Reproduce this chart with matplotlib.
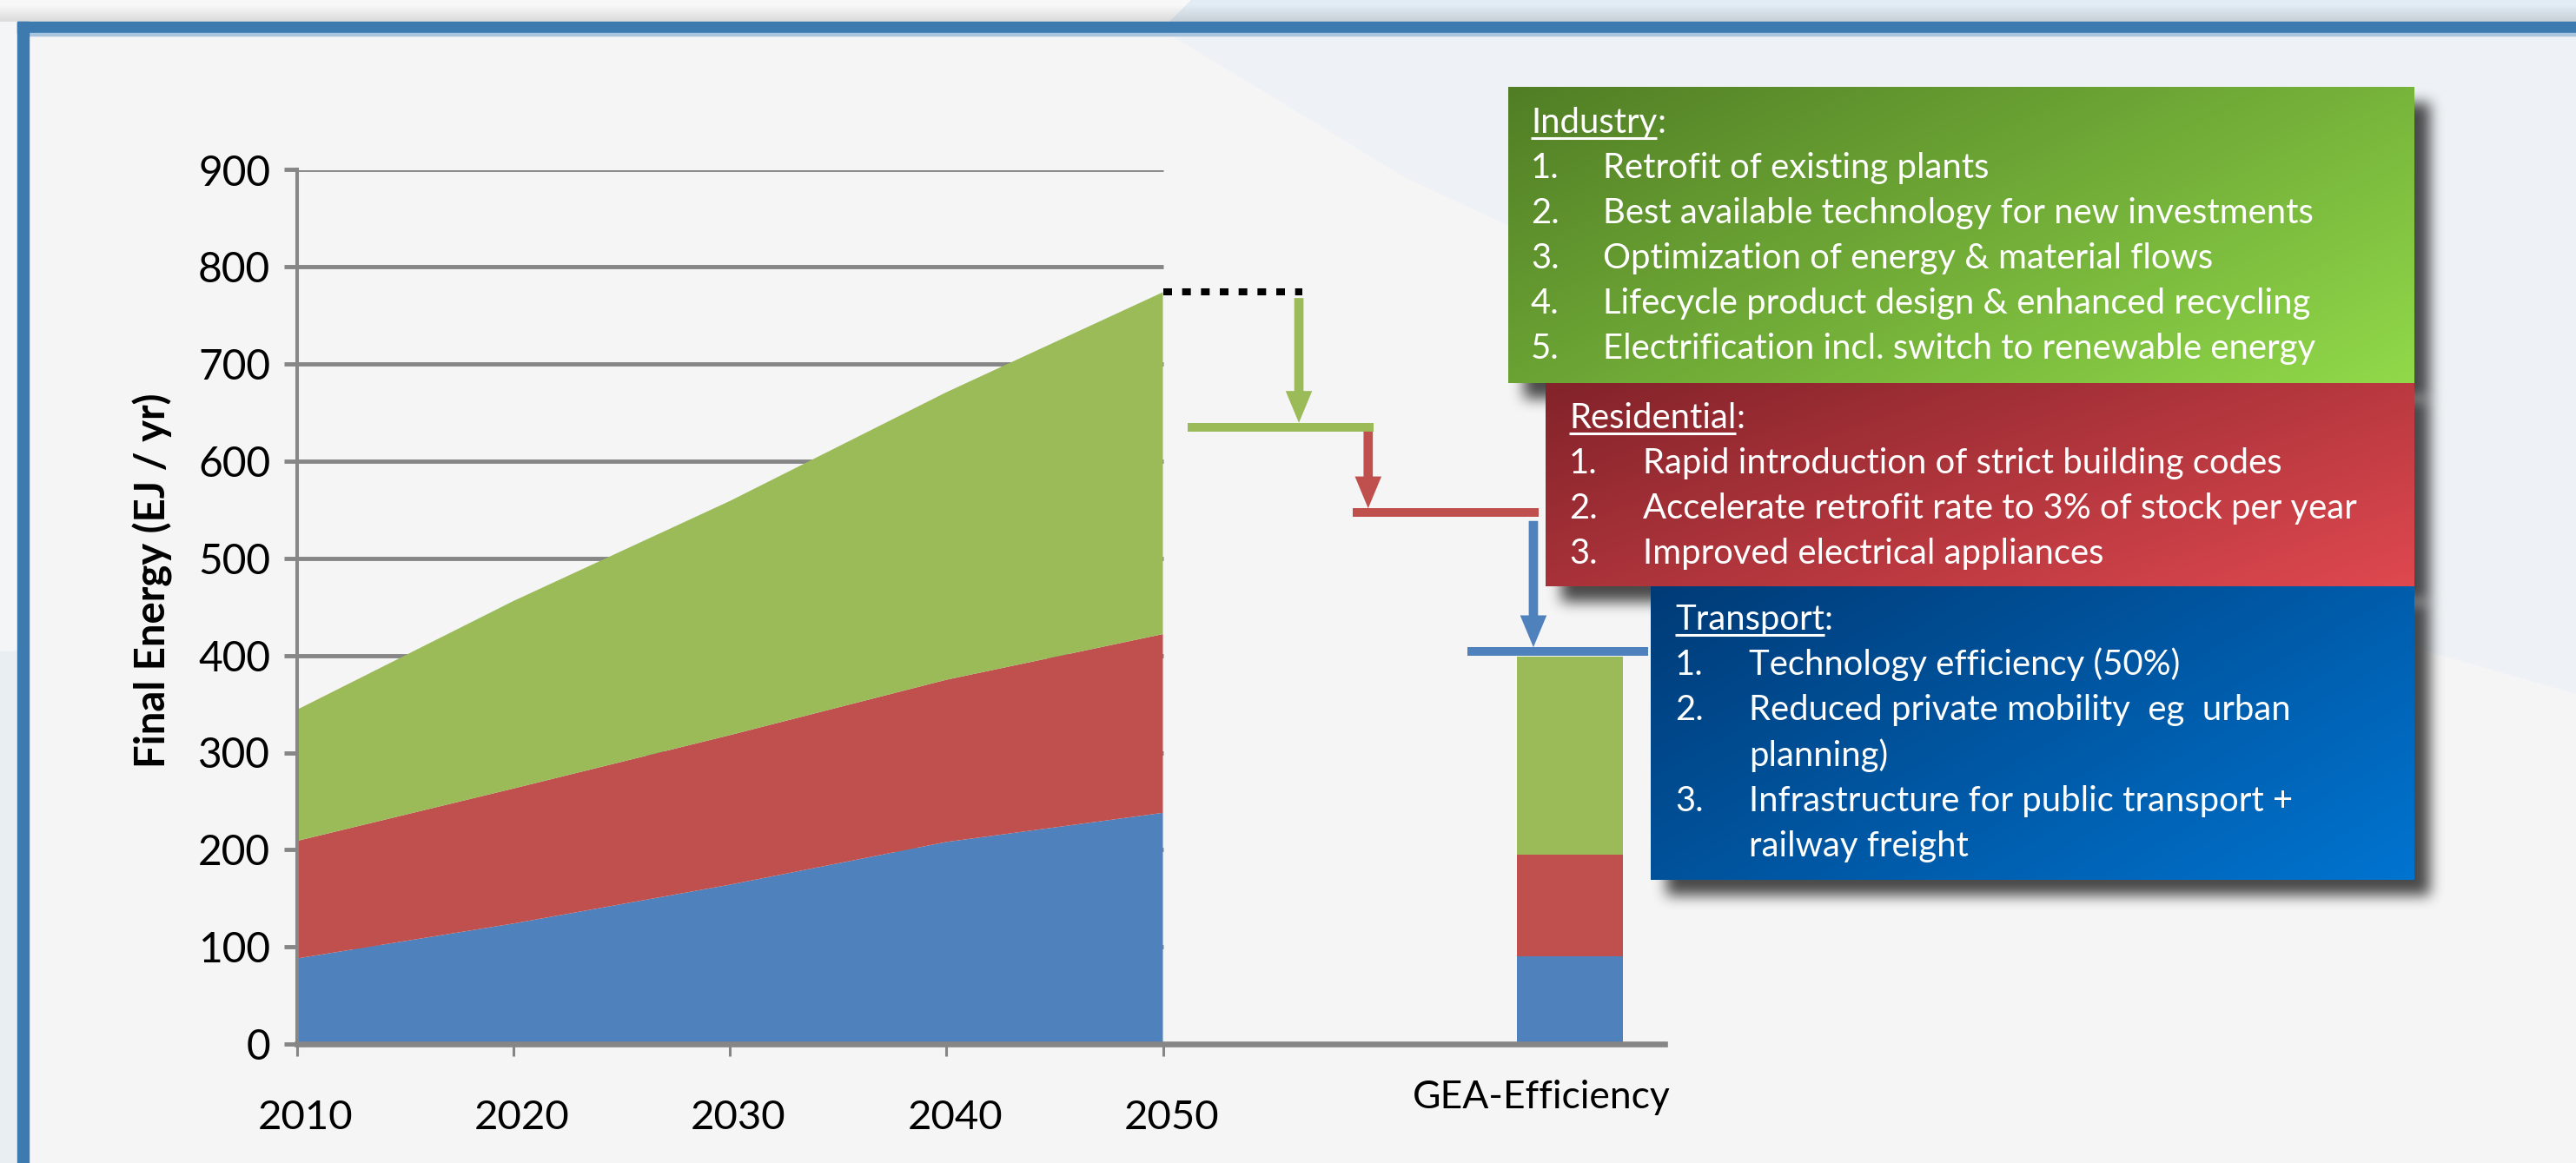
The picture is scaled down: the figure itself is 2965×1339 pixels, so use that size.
import numpy as np
import matplotlib
matplotlib.use('Agg')
import matplotlib.pyplot as plt
import matplotlib.transforms as mtransforms
from matplotlib.patches import Rectangle, Polygon, FancyArrowPatch, ArrowStyle

plt.rcParams['font.family'] = ['Lato', 'DejaVu Sans']

# === data (EJ / yr) ===
years = [2010, 2020, 2030, 2040, 2050]
transport = [88, 124, 164, 208, 238]        # blue, bottom layer
residential = [121, 139, 154, 167, 184]     # red, middle layer
industry = [135, 193, 241, 296, 352]        # green, top layer

gea_label = 'GEA-Efficiency'
gea_transport = 90
gea_residential = 105
gea_industry = 204

# staircase levels: after industry, after residential, after transport
step_levels = [635, 547, 404]

y_ticks = [0, 100, 200, 300, 400, 500, 600, 700, 800, 900]
y_label = 'Final Energy (EJ / yr)'

industry_title = 'Industry'
industry_items = ['Retrofit of existing plants',
                  'Best available technology for new investments',
                  'Optimization of energy & material flows',
                  'Lifecycle product design & enhanced recycling',
                  'Electrification incl. switch to renewable energy']
residential_title = 'Residential'
residential_items = ['Rapid introduction of strict building codes',
                     'Accelerate retrofit rate to 3% of stock per year',
                     'Improved electrical appliances']
transport_title = 'Transport'
transport_items = ['Technology efficiency (50%)',
                   'Reduced private mobility  eg  urban\nplanning)',
                   'Infrastructure for public transport +\nrailway freight']

# === styles ===
W, H = 2965, 1339
c_green, c_red, c_blue = '#9BBB59', '#C0504D', '#4F81BD'
grey = '#868686'
frame_blue = '#3D7AB0'


def box1d(a, r, axis):
    a = np.moveaxis(a, axis, -1)
    p = np.pad(a, [(0, 0), (r + 1, r)], mode='edge')
    c = np.cumsum(p, axis=-1)
    out = (c[:, 2 * r + 1:] - c[:, :-2 * r - 1]) / (2 * r + 1)
    return np.moveaxis(out, -1, axis)


def draw_shadow(axo, x0, y0, x1, y1, z, dx=18, dy=18, r=7, m=40, alpha=0.8):
    X0, Y0 = int(x0 + dx - m), int(y0 + dy - m)
    w, h = int(x1 - x0) + 2 * m, int(y1 - y0) + 2 * m
    a = np.zeros((h, w))
    a[m:h - m, m:w - m] = 1
    for _ in range(3):
        a = box1d(box1d(a, r, 0), r, 1)
    img = np.zeros((h, w, 4))
    img[..., :3] = 0.12
    img[..., 3] = a * alpha
    axo.imshow(img, extent=(X0, X0 + w, Y0 + h, Y0), origin='upper',
               zorder=z, interpolation='bilinear', aspect='auto')


def draw_gradient(axo, x0, y0, x1, y1, c0, c1, z):
    c0 = np.array(matplotlib.colors.to_rgb(c0))
    c1 = np.array(matplotlib.colors.to_rgb(c1))
    u, v = np.meshgrid(np.linspace(0, 1, 120), np.linspace(0, 1, 60))
    t = 0.6 * u + 0.4 * v
    img = c0 + t[..., None] * (c1 - c0)
    axo.imshow(img, extent=(x0, x1, y1, y0), origin='upper', zorder=z,
               interpolation='bilinear', aspect='auto')


fig = plt.figure(figsize=(W / 100, H / 100), dpi=100)

# === slide background (pixel coordinates, y down) ===
bg = fig.add_axes([0, 0, 1, 1], zorder=0)
bg.set_xlim(0, W)
bg.set_ylim(H, 0)
bg.set_autoscale_on(False)
bg.axis('off')
bg.add_patch(Rectangle((0, 0), W, H, color='#F5F5F6'))
bg.add_patch(Rectangle((0, 0), W, 25, color='#E2ECF4'))
bg.add_patch(Polygon([(0, 0), (1370, 0), (1345, 25), (0, 25)], color='#F8F8F8'))
shade = np.zeros((20, 2, 4))
shade[..., 3] = np.linspace(0, 0.12, 20)[:, None]
bg.imshow(shade, extent=(0, W, 25, 5), origin='upper', aspect='auto', zorder=1)
bg.add_patch(Rectangle((0, 25), 20, H, color='#F3F5F7', zorder=1))
bg.add_patch(Rectangle((0, 750), 20, H, color='#E8EEF2', zorder=1))
bg.add_patch(Polygon([(1345, 38), (W, 38), (W, 798), (2800, 751), (1620, 205)],
                     color='#EEF2F6', zorder=1))
bg.add_patch(Rectangle((20, 25), W, 13, color=frame_blue, zorder=2))
bg.add_patch(Rectangle((33, 38), W, 2.5, color='#A9C4DD', zorder=2))
bg.add_patch(Rectangle((20, 25), 13, H, color=frame_blue, zorder=2))

bg.text(176, 668, y_label, rotation=90, ha='center', va='center',
        fontsize=34, fontweight='bold', color='black')
bg.text(1774, 1243, gea_label, ha='center', va='top', fontsize=32, color='black')

# === chart ===
px_per_year = 24.925
x_left, x_right, y_bottom, y_top = 341.5, 1916, 1202, 195.5
ax = fig.add_axes([x_left / W, (H - y_bottom) / H, (x_right - x_left) / W,
                   (y_bottom - y_top) / H], zorder=1)
ax.patch.set_alpha(0)
ax.set_xlim(2010, 2010 + (x_right - x_left) / px_per_year)
ax.set_ylim(0, 900)

ax.hlines(y_ticks[1:], 2010, 2050, color=grey, lw=3.5, zorder=0.5)
ax.stackplot(years, transport, residential, industry,
             colors=[c_blue, c_red, c_green], lw=0, zorder=1)

gea_x, gea_w = 2068.8, 4.92
ax.bar(gea_x, gea_transport, width=gea_w, color=c_blue, zorder=1)
ax.bar(gea_x, gea_residential, width=gea_w, bottom=gea_transport, color=c_red, zorder=1)
ax.bar(gea_x, gea_industry, width=gea_w, bottom=gea_transport + gea_residential,
       color=c_green, zorder=1)

# savings staircase
total_2050 = transport[-1] + residential[-1] + industry[-1]
ax.plot([2050, 2056.42], [total_2050, total_2050], color='black', lw=5.8,
        linestyle=(0, (1.24, 1.45)), dash_capstyle='butt', zorder=3)
ax.plot([2051.14, 2059.71], [step_levels[0]] * 2, color=c_green, lw=7.2,
        solid_capstyle='butt', zorder=3)
ax.plot([2058.77, 2067.34], [step_levels[1]] * 2, color=c_red, lw=7.2,
        solid_capstyle='butt', zorder=3)
ax.plot([2064.06, 2072.41], [step_levels[2]] * 2, color=c_blue, lw=7.2,
        solid_capstyle='butt', zorder=3)

arrow_style = ArrowStyle('simple', head_length=26.4, head_width=22, tail_width=7.7)
arrows = [(2056.28, total_2050 - 6, step_levels[0] + 4.5, c_green),
          (2059.48, step_levels[0] - 4.5, step_levels[1] + 4.5, c_red),
          (2067.11, step_levels[1] - 8.5, step_levels[2] + 4.5, c_blue)]
for x, y0, y1, col in arrows:
    ax.add_patch(FancyArrowPatch((x, y0), (x, y1), arrowstyle=arrow_style,
                                 mutation_scale=1, color=col, lw=0,
                                 shrinkA=0, shrinkB=0, zorder=3))

for s in ['top', 'right']:
    ax.spines[s].set_visible(False)
ax.spines['left'].set_color(grey)
ax.spines['left'].set_linewidth(2.9)
ax.spines['bottom'].set_color(grey)
ax.spines['bottom'].set_linewidth(4.8)

ax.set_yticks(y_ticks)
ax.set_xticks(years)
ax.set_xticklabels([str(y) for y in years])
ax.tick_params(axis='y', length=10.8, width=3.5, color=grey, pad=11, labelsize=34.5)
ax.tick_params(axis='x', length=10, width=2.2, color=grey, pad=36, labelsize=34)
# year labels sit a little right of their ticks on the slide
shift = mtransforms.ScaledTranslation(0.1, 0, fig.dpi_scale_trans)
for lab in ax.get_xticklabels():
    lab.set_transform(lab.get_transform() + shift)

# === text boxes (pixel coordinates, y down) ===
fg = fig.add_axes([0, 0, 1, 1], zorder=2)
fg.patch.set_alpha(0)
fg.axis('off')
fg.set_xlim(0, W)
fg.set_ylim(H, 0)
fg.set_autoscale_on(False)

boxes = [
    dict(rect=(1736, 100, 2779, 441), c0='#517E25', c1='#91D94A',
         title=industry_title, items=industry_items,
         num_x=1762, text_x=1845, title_y=153, first_y=205, step=52),
    dict(rect=(1779, 441, 2779, 675), c0='#83232A', c1='#DF484F',
         title=residential_title, items=residential_items,
         num_x=1806, text_x=1891, title_y=493, first_y=545, step=52),
    dict(rect=(1900, 675, 2779, 1013), c0='#003B77', c1='#0074D0',
         title=transport_title, items=transport_items,
         num_x=1928, text_x=2013, title_y=725, first_y=777, step=52.3),
]

renderer = fig.canvas.get_renderer()
z = 1
for b in boxes:
    x0, y0, x1, y1 = b['rect']
    draw_shadow(fg, x0, y0, x1, y1, z)
    draw_gradient(fg, x0, y0, x1, y1, b['c0'], b['c1'], z + 1)
    z += 2
    t = fg.text(b['num_x'], b['title_y'], b['title'], va='baseline', ha='left',
                color='white', fontsize=28.8, zorder=20)
    title_right = t.get_window_extent(renderer).x1
    fg.plot([b['num_x'], title_right], [b['title_y'] + 6] * 2, color='white', lw=2.2,
            solid_capstyle='butt', zorder=20)
    fg.text(title_right, b['title_y'], ':', va='baseline', ha='left', color='white',
            fontsize=28.8, zorder=20)
    y = b['first_y']
    for i, item in enumerate(b['items']):
        fg.text(b['num_x'], y, f'{i + 1}.', va='baseline', ha='left', color='white',
                fontsize=28.8, zorder=20)
        for line in item.split('\n'):
            fg.text(b['text_x'], y, line, va='baseline', ha='left', color='white',
                    fontsize=28.8, zorder=20)
            y += b['step']

fig.savefig('out.png', dpi=100)
